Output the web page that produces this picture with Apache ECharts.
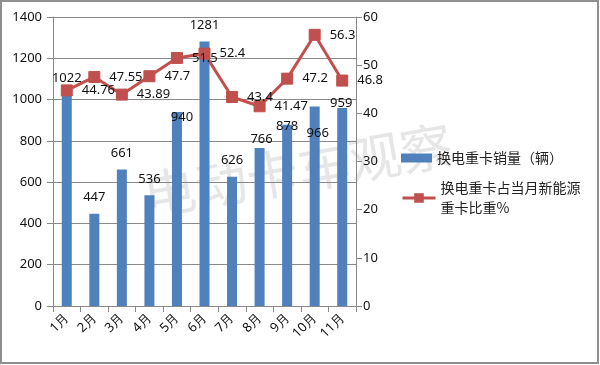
<!DOCTYPE html>
<html>
<head>
<meta charset="utf-8">
<script src="https://cdn.jsdelivr.net/npm/echarts@6/dist/echarts.min.js"></script>
<style>html,body{margin:0;padding:0;background:#fff}#c{width:600px;height:365px}</style>
</head>
<body>
<div id="c"></div>
<script>
const categories = ['1月','2月','3月','4月','5月','6月','7月','8月','9月','10月','11月'];
const salesValues = [1022, 447, 661, 536, 940, 1281, 626, 766, 878, 966, 959];
const shareValues = [44.76, 47.55, 43.89, 47.7, 51.5, 52.4, 43.4, 41.47, 47.2, 56.3, 46.8];
const leftTicks = {min: 0, max: 1400, interval: 200};
const rightTicks = {min: 0, max: 60, interval: 10};
const salesName = '换电重卡销量（辆）';
const shareName = '换电重卡占当月新能源\n重卡比重%';
const watermarkText = '电动卡车观察';

// label placement tweaks (style only)
const barLabelShift = [[0,0],[0,0],[0,0],[0,0],[5,22],[0,0],[0,0],[2,8],[0,18],[3,43],[-1,12]];

const FONT = '"Noto Sans", "Liberation Sans", sans-serif';
const CJK = '"Noto Sans CJK SC", sans-serif';

const chart = echarts.init(document.getElementById('c'), null, {renderer: 'canvas'});
chart.setOption({
  animation: false,
  backgroundColor: '#fff',
  grid: {left: 53, right: 244, top: 17, bottom: 59, containLabel: false},
  graphic: [
    {type: 'rect', shape: {x: 1, y: 1, width: 597, height: 362}, style: {fill: 'none', stroke: '#8f8f8f', lineWidth: 2}, z: 100},
    {type: 'text', x: 298, y: 170, rotation: 0.17, z: 0,
     style: {text: watermarkText, font: '52px ' + CJK, fill: '#e6e6e6', align: 'center', verticalAlign: 'middle'}}
  ],
  legend: [
    {data: [salesName], orient: 'vertical', left: 396, top: 143, itemWidth: 31, itemHeight: 9,
     icon: 'rect', textStyle: {fontFamily: CJK, fontSize: 14, color: '#222', lineHeight: 20}},
    {data: [shareName], orient: 'vertical', left: 396, top: 163, itemWidth: 33, itemHeight: 12,
     lineStyle: {width: 3},
     textStyle: {fontFamily: CJK, fontSize: 14, color: '#222', lineHeight: 20, padding: [20, 0, 0, 0]}}
  ],
  xAxis: {
    type: 'category', data: categories, boundaryGap: true,
    axisLine: {lineStyle: {color: '#888', width: 1}},
    axisTick: {show: true, length: 6, lineStyle: {color: '#888'}},
    axisLabel: {rotate: 45, margin: 10, fontFamily: FONT, fontSize: 13, color: '#111', interval: 0}
  },
  yAxis: [
    {type: 'value', min: leftTicks.min, max: leftTicks.max, interval: leftTicks.interval,
     axisLine: {show: true, lineStyle: {color: '#888'}},
     axisTick: {show: true, length: 6, lineStyle: {color: '#888'}},
     splitLine: {show: true, lineStyle: {color: '#8a8a8a', width: 1}},
     axisLabel: {margin: 11, fontFamily: FONT, fontSize: 13, color: '#111', formatter: v => String(v)}},
    {type: 'value', min: rightTicks.min, max: rightTicks.max, interval: rightTicks.interval, position: 'right',
     axisLine: {show: true, lineStyle: {color: '#888'}},
     axisTick: {show: true, length: 6, lineStyle: {color: '#888'}},
     splitLine: {show: false},
     axisLabel: {margin: 7, fontFamily: FONT, fontSize: 13, color: '#111', formatter: v => String(v)}}
  ],
  series: [
    {
      name: salesName, type: 'bar', yAxisIndex: 0, barWidth: 10, z: 2,
      itemStyle: {color: '#4F81BD'},
      label: {show: true, position: 'top', distance: 10, fontFamily: FONT, fontSize: 13, color: '#111'},
      data: salesValues.map((v, i) => ({value: v, label: {offset: barLabelShift[i]}}))
    },
    {
      name: shareName, type: 'line', yAxisIndex: 1, z: 3,
      symbol: 'rect', symbolSize: 11,
      lineStyle: {color: '#C0504D', width: 3},
      itemStyle: {color: '#C0504D', borderColor: '#C0504D'},
      label: {show: true, position: 'right', distance: 9, fontFamily: FONT, fontSize: 13, color: '#111'},
      data: shareValues
    }
  ]
});
</script>
</body>
</html>
